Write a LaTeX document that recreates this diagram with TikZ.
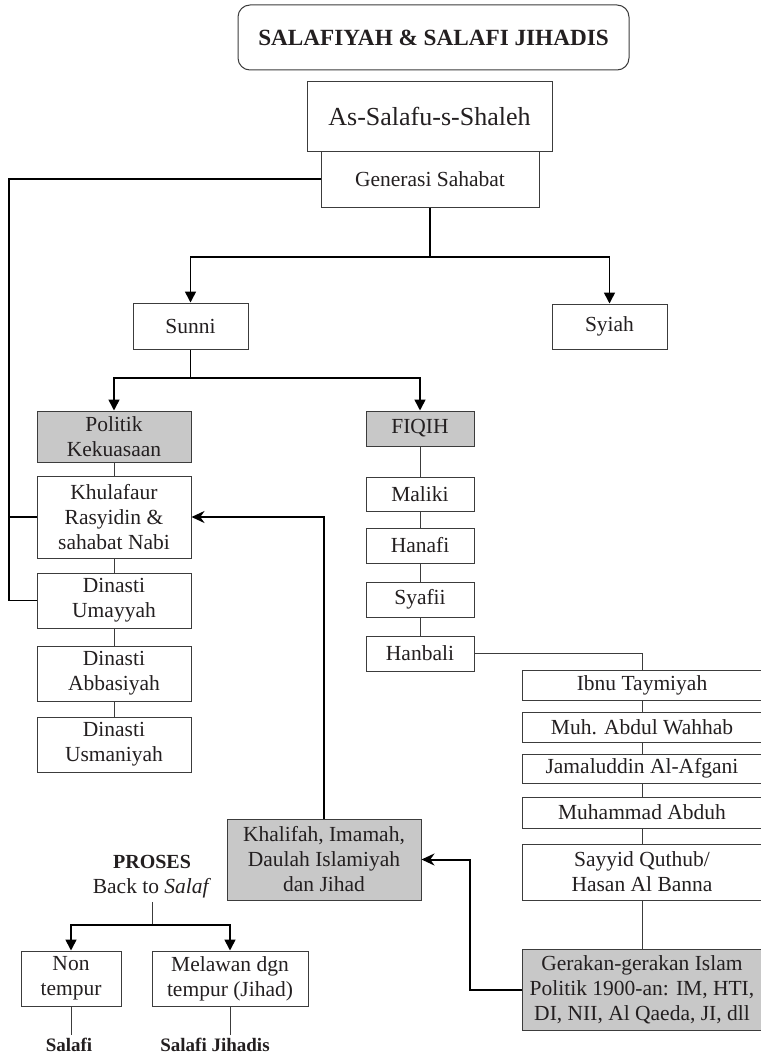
\documentclass[tikz,border=0pt]{standalone}
\usepackage{fontspec}
\setmainfont{Liberation Serif}
\usepackage{tikz}
\usetikzlibrary{arrows.meta,positioning}
\definecolor{abu}{HTML}{C8C8C8}
\definecolor{garis}{HTML}{3C3C3C}
\definecolor{teks}{HTML}{231F20}
\newcommand{\kotak}[7]{
    \pgfmathsetmacro{\bx}{(#2+#4)/2}
    \pgfmathsetmacro{\by}{(#3+#5)/2}
    \pgfmathsetmacro{\bw}{#4-#2}
    \pgfmathsetmacro{\bh}{#5-#3}
    \node[#6, minimum width=\bw pt, minimum height=\bh pt] (#1) at (\bx, \by) {#7};
}

\begin{document}
\begin{tikzpicture}[x=1pt, y=-1pt, font=\fontsize{21.5}{25}\selectfont, text=teks,
    kotakputih/.style={draw=garis, line width=1pt, fill=white, inner sep=0pt, align=center},
    kotakabu/.style={kotakputih, fill=abu},
    sambung/.style={draw=garis, line width=1pt},
    garistebal/.style={draw=black, line width=1.6pt},
    kurung/.style={draw=black, line width=1.8pt},
    panah/.style={draw=black, line width=1.6pt, -{Triangle[length=11pt,width=11pt]}},
    panahbalik/.style={draw=black, line width=2pt, -{Stealth[length=13pt,width=12pt]}},
    tebal/.style={font=\fontsize{19}{25}\selectfont\bfseries}]
        \useasboundingbox (0,0) rectangle (760,1057);

        \kotak{judul}{238}{5}{629}{70}{kotakputih, rounded corners=12pt, font=\fontsize{23.2}{30}\selectfont\bfseries}{SALAFIYAH \& SALAFI JIHADIS};
        \kotak{salaf}{307}{81}{552}{151}{kotakputih, font=\fontsize{26}{30}\selectfont}{As-Salafu-s-Shaleh};
        \kotak{generasi}{321}{151}{539}{207}{kotakputih}{Generasi Sahabat};

        \kotak{sunni}{133}{303}{248}{349}{kotakputih}{Sunni};
        \kotak{syiah}{552}{304}{667}{349}{kotakputih}{Syiah};

        \kotak{politik}{37}{411}{191}{462}{kotakabu}{Politik\\Kekuasaan};
        \kotak{khulafaur}{37}{476}{191}{558}{kotakputih}{Khulafaur\\Rasyidin \&\\sahabat Nabi};
        \kotak{umayyah}{37}{573}{191}{628}{kotakputih}{Dinasti\\Umayyah};
        \kotak{abbasiyah}{37}{646}{191}{701}{kotakputih}{Dinasti\\Abbasiyah};
        \kotak{usmaniyah}{37}{717}{191}{772}{kotakputih}{Dinasti\\Usmaniyah};

        \kotak{fiqih}{366}{411}{474}{446}{kotakabu}{FIQIH};
        \kotak{maliki}{366}{477}{474}{511}{kotakputih}{Maliki};
        \kotak{hanafi}{366}{528}{474}{563}{kotakputih}{Hanafi};
        \kotak{syafii}{366}{582}{474}{617}{kotakputih}{Syafii};
        \kotak{hanbali}{366}{636}{474}{671}{kotakputih}{Hanbali};

        \kotak{ibnu}{522}{670}{762}{700}{kotakputih}{Ibnu Taymiyah};
        \kotak{wahhab}{522}{712}{762}{742}{kotakputih}{Muh. Abdul Wahhab};
        \kotak{afgani}{522}{754}{762}{783}{kotakputih}{Jamaluddin Al-Afgani};
        \kotak{abduh}{522}{797}{762}{828}{kotakputih}{Muhammad Abduh};
        \kotak{quthub}{522}{844}{762}{900}{kotakputih}{Sayyid Quthub/\\Hasan Al Banna};
        \kotak{gerakan}{522}{949}{762}{1030}{kotakabu}{Gerakan-gerakan Islam\\Politik 1900-an: IM, HTI,\\DI, NII, Al Qaeda, JI, dll};

        \kotak{khalifah}{227}{819}{421}{900}{kotakabu}{Khalifah, Imamah,\\Daulah Islamiyah\\dan Jihad};

        \node[align=center] (proses) at (152,877) {\textbf{\fontsize{20}{25}\selectfont PROSES}\\Back to \textit{Salaf}};
        \kotak{nontempur}{21}{951}{121}{1006}{kotakputih}{Non\\tempur};
        \kotak{melawan}{152}{951}{308}{1006}{kotakputih}{Melawan dgn\\tempur (Jihad)};
        \node[tebal] (salafi) at (69,1045) {Salafi};
        \node[tebal] (jihadis) at (215,1045) {Salafi Jihadis};

        % garis ke generasi sahabat
        \coordinate (kiri) at (9,179);
        \draw[kurung] (generasi.west) -- (kiri) |- (umayyah.west);
        \draw[kurung] (kiri |- khulafaur.west) -- (khulafaur.west);

        \coordinate (cabang1) at (430,257);
        \draw[garistebal] (generasi.south) -- (cabang1);
        \draw[panah] (cabang1) -| (sunni.north);
        \draw[panah] (cabang1) -| (syiah.north);

        \coordinate (cabang2) at (190.5,378);
        \draw[garistebal] (sunni.south) -- (cabang2);
        \draw[panah] (cabang2) -| (politik.north);
        \draw[panah] (cabang2) -| (fiqih.north);

        \foreach \a/\b in {politik/khulafaur, khulafaur/umayyah, umayyah/abbasiyah, abbasiyah/usmaniyah,
            fiqih/maliki, maliki/hanafi, hanafi/syafii, syafii/hanbali,
            ibnu/wahhab, wahhab/afgani, afgani/abduh, abduh/quthub, quthub/gerakan}
            \draw[sambung] (\a.south) -- (\b.north);

        \draw[sambung] (hanbali.east) -| (ibnu.north);

        \draw[panahbalik] (khalifah.north) |- (khulafaur.east);
        \draw[panahbalik] (gerakan.west) -- ++(-52,0) |- (khalifah.east);

        \coordinate (cabang3) at (152,925);
        \draw[sambung] (proses.south) -- (cabang3);
        \draw[panah] (cabang3) -| (nontempur.north);
        \draw[panah] (cabang3) -| (melawan.north);
        \draw[sambung] (nontempur.south) -- (nontempur.south |- salafi.north);
        \draw[sambung] (melawan.south) -- (melawan.south |- jihadis.north);

\end{tikzpicture}
\end{document}
